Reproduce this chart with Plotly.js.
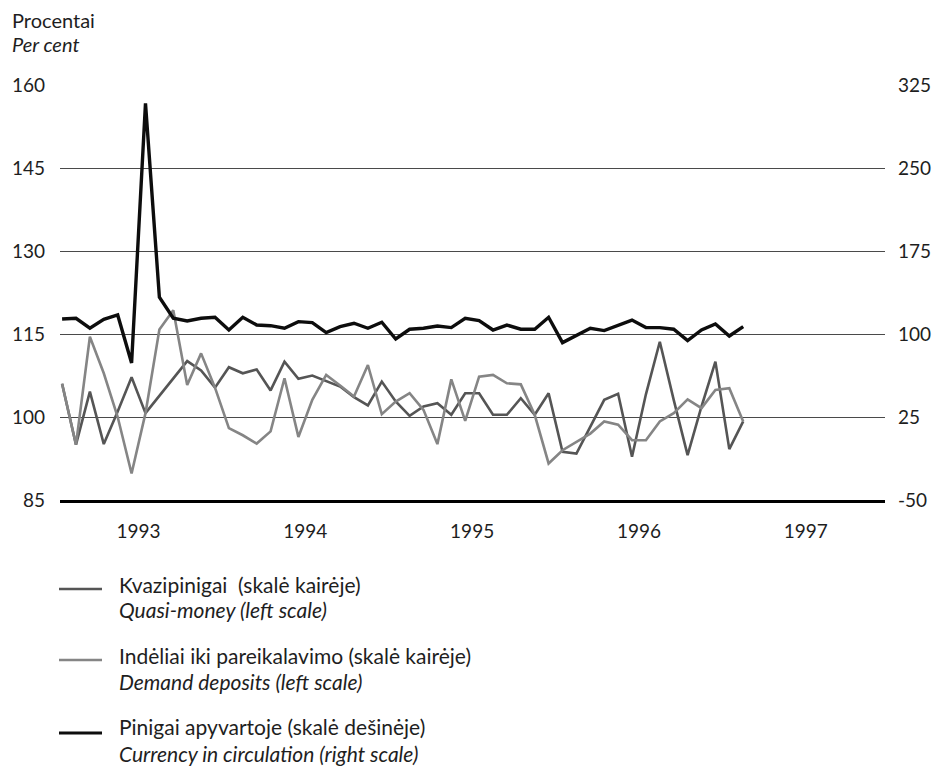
<!DOCTYPE html>
<html><head><meta charset="utf-8">
<script src="https://cdn.plot.ly/plotly-3.0.1.min.js"></script>
<style>html,body{margin:0;padding:0;background:#fff}#chart{width:937px;height:767px}</style>
</head><body><div id="chart"></div>
<script>
// Monthly data, January 1993 onwards
const yearLabels = ['1993', '1994', '1995', '1996', '1997'];
const leftTicks = [85, 100, 115, 130, 145, 160];
const rightTicks = [-50, 25, 100, 175, 250, 325];

// Quasi-money (left scale)
const quasiMoney = [106, 95, 104.6, 95.1, 101, 107.2, 100.7, 103.8, 106.8, 110.1, 108.4, 105.3,
  109.0, 107.9, 108.6, 104.8, 110.0, 106.9, 107.5, 106.5, 105.5, 103.6, 102.1, 106.4,
  102.8, 100.2, 101.9, 102.5, 100.4, 104.3, 104.3, 100.4, 100.4, 103.4, 100.4, 104.3,
  93.7, 93.4, 98.3, 103.1, 104.2, 92.8, 104.1, 113.6, 103.1, 93.1, 101.9, 110.0,
  94.2, 99.2];

// Demand deposits (left scale)
const demandDeposits = [106, 95, 114.5, 107.9, 100, 89.8, 100.7, 115.8, 119.3, 105.8, 111.5, 105.3,
  98.0, 96.7, 95.2, 97.4, 107.0, 96.4, 103.1, 107.6, 105.7, 103.7, 109.4, 100.5,
  102.8, 104.3, 101.3, 95.1, 106.8, 99.3, 107.3, 107.6, 106.1, 105.9, 100.4, 91.6,
  94.0, 95.5, 97.0, 99.2, 98.6, 95.8, 95.8, 99.2, 100.7, 103.2, 101.6, 104.9,
  105.2, 99.2];

// Currency in circulation (right scale)
const currency = [113.6, 114.2, 105.2, 113.3, 117.2, 73.8, 308.5, 133.2, 114.2, 111.8, 114.2, 115.1,
  103.6, 115.1, 108.1, 107.5, 105.2, 111.2, 110.3, 101.3, 106.7, 109.7, 105.2, 110.6,
  95.5, 104.3, 105.2, 107.2, 105.8, 114.2, 112.1, 103.6, 108.1, 104.3, 104.3, 115.1,
  92.2, 99.1, 105.2, 103.1, 107.5, 112.6, 105.8, 105.8, 104.3, 94.0, 103.6, 109.0,
  98.2, 106.7];

const seriesNames = [
  ['Kvazipinigai  (skalė kairėje)', 'Quasi-money (left scale)'],
  ['Indėliai iki pareikalavimo (skalė kairėje)', 'Demand deposits (left scale)'],
  ['Pinigai apyvartoje (skalė dešinėje)', 'Currency in circulation (right scale)']
];

const months = quasiMoney.map((_, i) => i);
const tickPos = yearLabels.map((_, k) => k * 12 + 5.5);

const FONT = 'Lato, "Open Sans", sans-serif';
const TXT = '#1e1e1e';
const colQ = '#555555', colD = '#858585', colC = '#0d0d0d';

const traces = [
  {x: months, y: quasiMoney, type: 'scatter', mode: 'lines', line: {color: colQ, width: 2.6}, showlegend: false, yaxis: 'y'},
  {x: months, y: demandDeposits, type: 'scatter', mode: 'lines', line: {color: colD, width: 2.6}, showlegend: false, yaxis: 'y'},
  {x: months, y: currency, type: 'scatter', mode: 'lines', line: {color: colC, width: 3.4}, showlegend: false, yaxis: 'y2'}
];

// legend built from annotations and short line samples
const px2x = p => (p - 60) / 825;
const py2y = p => (500 - p) / 415;
const legendRows = [
  {sample: 589, t1: 584, t2: 609, color: colQ, w: 2.4},
  {sample: 660, t1: 655, t2: 681, color: colD, w: 2.4},
  {sample: 733, t1: 726, t2: 753, color: colC, w: 3.2}
];
const annotations = [
  {text: 'Procentai', xref: 'paper', yref: 'paper', x: px2x(10), y: py2y(20), xanchor: 'left', yanchor: 'middle', showarrow: false, font: {family: FONT, size: 20, color: TXT}},
  {text: '<i>Per cent</i>', xref: 'paper', yref: 'paper', x: px2x(10), y: py2y(44), xanchor: 'left', yanchor: 'middle', showarrow: false, font: {family: FONT, size: 20, color: TXT}}
];
const shapes = [];
legendRows.forEach((r, k) => {
  annotations.push({text: seriesNames[k][0], xref: 'paper', yref: 'paper', x: px2x(117), y: py2y(r.t1), xanchor: 'left', yanchor: 'middle', showarrow: false, font: {family: FONT, size: 21, color: TXT}});
  annotations.push({text: '<i>' + seriesNames[k][1] + '</i>', xref: 'paper', yref: 'paper', x: px2x(117), y: py2y(r.t2), xanchor: 'left', yanchor: 'middle', showarrow: false, font: {family: FONT, size: 21, color: TXT}});
  shapes.push({type: 'line', xref: 'paper', yref: 'paper', x0: px2x(59), x1: px2x(102), y0: py2y(r.sample), y1: py2y(r.sample), line: {color: r.color, width: r.w}});
});

const layout = {
  width: 937, height: 767,
  margin: {l: 60, r: 52, t: 85, b: 267},
  paper_bgcolor: '#fff', plot_bgcolor: '#fff',
  font: {family: FONT, size: 19, color: TXT},
  showlegend: false,
  xaxis: {
    range: [-0.15, 59.2], tickmode: 'array', tickvals: tickPos, ticktext: yearLabels,
    showgrid: false, zeroline: false, showline: true, linecolor: '#000', linewidth: 3,
    ticks: '', ticklabelstandoff: 12, tickfont: {family: FONT, size: 19, color: TXT}
  },
  yaxis: {
    range: [85, 160], tickmode: 'array', tickvals: leftTicks, ticktext: leftTicks.map(String),
    showgrid: true, gridcolor: '#4a4a4a', gridwidth: 1, zeroline: false, showline: false,
    ticks: '', ticklabelstandoff: 14, tickfont: {family: FONT, size: 19, color: TXT}
  },
  yaxis2: {
    range: [-50, 325], tickmode: 'array', tickvals: rightTicks, ticktext: rightTicks.map(String),
    overlaying: 'y', side: 'right', showgrid: false, zeroline: false, showline: false,
    ticks: '', ticklabelstandoff: 12, tickfont: {family: FONT, size: 19, color: TXT}
  },
  annotations: annotations,
  shapes: shapes
};

Plotly.newPlot('chart', traces, layout, {displayModeBar: false, staticPlot: true});
</script>
</body></html>
